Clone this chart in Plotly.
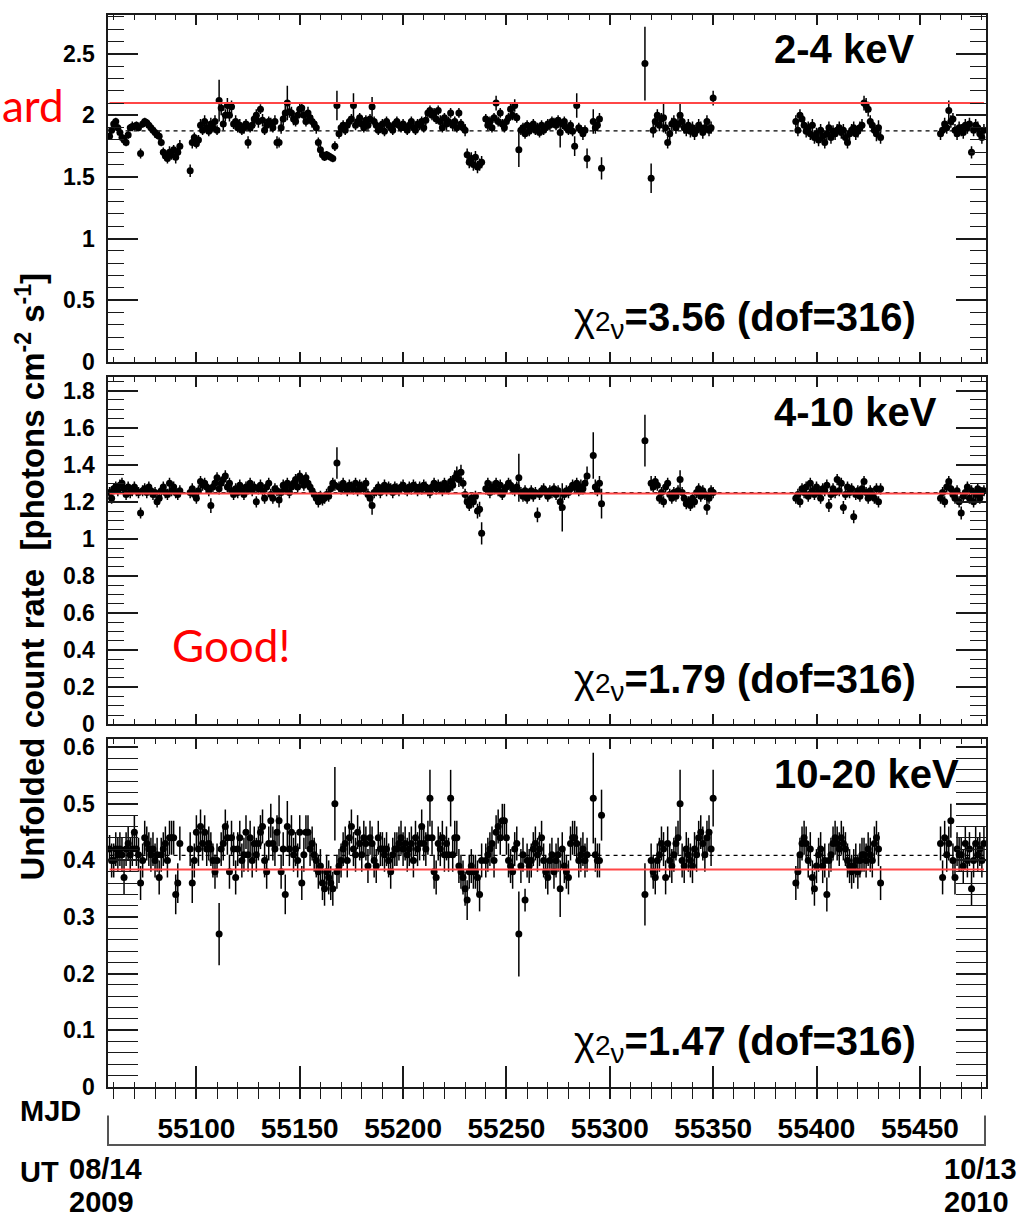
import plotly.graph_objects as go

# ---------------- data (MJD days) ----------------
mjd = [
    55058, 55059, 55060, 55061, 55062, 55063, 55064, 55065, 55066, 55067,
    55068, 55069, 55070, 55071, 55072, 55073, 55074, 55075, 55076, 55077,
    55078, 55079, 55080, 55081, 55082, 55083, 55084, 55085, 55086, 55087,
    55088, 55089, 55090, 55091, 55092,
    55097, 55098, 55099, 55100, 55101, 55102, 55103, 55104, 55105, 55106,
    55107, 55108, 55109, 55110, 55111, 55112, 55113, 55114, 55115, 55116,
    55117, 55118, 55119, 55120, 55121, 55122, 55123, 55124, 55125, 55126,
    55127, 55128, 55129, 55130, 55131, 55132, 55133, 55134, 55135, 55136,
    55137, 55138, 55139, 55140, 55141, 55142, 55143, 55144, 55145, 55146,
    55147, 55148, 55149, 55150, 55151, 55152, 55153, 55154, 55155, 55156,
    55157, 55158, 55159, 55160, 55161, 55162, 55163, 55164, 55165, 55166,
    55167, 55168, 55169, 55170, 55171, 55172, 55173, 55174, 55175, 55176,
    55177, 55178, 55179, 55180, 55181, 55182, 55183, 55184, 55185, 55186,
    55187, 55188, 55189, 55190, 55191, 55192, 55193, 55194, 55195, 55196,
    55197, 55198, 55199, 55200, 55201, 55202, 55203, 55204, 55205, 55206,
    55207, 55208, 55209, 55210, 55211, 55212, 55213, 55214, 55215, 55216,
    55217, 55218, 55219, 55220, 55221, 55222, 55223, 55224, 55225, 55226,
    55227, 55228, 55229, 55230, 55231, 55232, 55233, 55234, 55235, 55236,
    55237, 55238,
    55240, 55241, 55242, 55243, 55244, 55245, 55246, 55247, 55248, 55249,
    55250, 55251, 55252, 55253, 55254, 55255, 55256, 55257, 55258, 55259,
    55260, 55261, 55262, 55263, 55264, 55265, 55266, 55267, 55268, 55269,
    55270, 55271, 55272, 55273, 55274, 55275, 55276, 55277, 55278, 55279,
    55280, 55281, 55282, 55283, 55284, 55285, 55286, 55287, 55288, 55289,
    55292, 55293, 55294, 55295, 55296,
    55317,
    55320, 55321, 55322, 55323, 55324, 55325, 55326, 55327, 55328, 55329,
    55330, 55331, 55332, 55333, 55334, 55335, 55336, 55337, 55338, 55339,
    55340, 55341, 55342, 55343, 55344, 55345, 55346, 55347, 55348, 55349,
    55350,
    55390, 55391, 55392, 55393, 55394, 55395, 55396, 55397, 55398, 55399,
    55400, 55401, 55402, 55403, 55404, 55405, 55406, 55407, 55408, 55409,
    55410, 55411, 55412, 55413, 55414, 55415, 55416, 55417, 55418, 55419,
    55420, 55421, 55422, 55423, 55424, 55425, 55426, 55427, 55428, 55429,
    55430, 55431,
    55460, 55461, 55462, 55463, 55464, 55465, 55466, 55467, 55468, 55469,
    55470, 55471, 55472, 55473, 55474, 55475, 55476, 55477, 55478, 55479,
    55480, 55481,
]

rate_2_4 = [
    1.83, 1.88, 1.93, 1.95, 1.90, 1.86, 1.82, 1.80, 1.78, 1.84,
    1.90, 1.91, 1.91, 1.92, 1.90, 1.69, 1.93, 1.95, 1.94, 1.92,
    1.90, 1.88, 1.86, 1.84, 1.83, 1.78, 1.70, 1.67, 1.65, 1.70,
    1.68, 1.72, 1.66, 1.70, 1.75,
    1.55, 1.78, 1.82, 1.77, 1.80, 1.92, 1.88, 1.95, 1.90, 1.87,
    1.93, 1.90, 1.95, 1.88, 2.12, 2.06, 1.93, 2.00, 2.08, 2.00,
    2.07, 1.93, 1.95, 1.90, 1.92, 1.88, 1.90, 1.93, 1.78, 1.90,
    1.92, 1.97, 2.00, 1.95, 2.05, 1.96, 1.88, 1.92, 1.95, 1.93,
    1.90, 1.95, 1.78, 1.78, 1.90, 1.97, 2.02, 2.10, 2.03, 2.02,
    1.97, 1.95, 2.00, 2.05, 2.06, 2.00, 1.95, 2.02, 1.98, 1.95,
    1.93, 1.90, 1.78, 1.72, 1.68, 1.66, 1.68, 1.67, 1.66, 1.65,
    1.75, 2.08, 1.85, 1.90, 1.92, 1.88, 1.92, 1.95, 1.97, 2.08,
    1.92, 1.95, 1.98, 1.93, 1.90, 1.96, 1.92, 1.97, 2.07, 1.95,
    1.92, 1.88, 1.90, 1.93, 1.87, 1.95, 1.92, 1.90, 1.88, 1.93,
    1.95, 1.92, 1.90, 1.93, 1.90, 1.88, 1.92, 1.95, 1.90, 1.88,
    1.93, 1.92, 1.95, 1.90, 1.96, 2.02, 2.04, 2.00, 2.02, 1.97,
    2.04, 1.95, 1.90, 1.98, 1.93, 1.95, 2.02, 1.92, 1.95, 1.90,
    2.02, 1.93, 1.90, 1.88, 1.68, 1.62, 1.65, 1.60, 1.66, 1.58,
    1.60, 1.62,
    1.97, 1.92, 1.95, 1.90, 1.98, 2.10, 1.95, 2.02, 1.93, 1.90,
    1.95, 1.98, 2.05, 2.00, 2.08, 1.98, 1.72, 1.88, 1.90, 1.85,
    1.92, 1.87, 1.90, 1.93, 1.88, 1.90, 1.86, 1.92, 1.88, 1.90,
    1.93, 1.92, 1.95, 1.94, 1.92, 1.96, 1.86, 1.93, 1.95, 1.90,
    1.88, 1.92, 1.87, 1.75, 2.08, 1.90, 1.88, 1.85, 1.88, 1.65,
    1.95, 1.90, 1.92, 1.97, 1.57,
    2.42,
    1.49, 1.88, 1.95, 2.00, 1.92, 1.97, 1.98, 1.90, 1.78, 1.85,
    1.93, 1.95, 1.90, 1.93, 2.00, 1.95, 1.90, 1.88, 1.92, 1.87,
    1.90, 1.85, 1.88, 1.92, 1.90, 1.86, 1.90, 1.95, 1.88, 1.90,
    2.14,
    1.95, 1.88, 2.00, 1.97, 1.92, 1.87, 1.90, 1.85, 1.92, 1.82,
    1.85, 1.80, 1.88, 1.83, 1.78, 1.85, 1.90, 1.82, 1.87, 1.85,
    1.88, 1.90, 1.86, 1.88, 1.82, 1.78, 1.85, 1.88, 1.90, 1.85,
    1.87, 1.90, 1.92, 2.10, 2.08, 2.05, 1.95, 1.92, 1.88, 1.85,
    1.90, 1.82,
    1.85, 1.88, 1.93, 1.90, 2.04, 1.95, 1.97, 1.88, 1.85, 1.90,
    1.88, 1.86, 1.92, 1.90, 1.93, 1.70, 1.88, 1.92, 1.90, 1.85,
    1.82, 1.88,
]

err_2_4 = [
    .03, .03, .04, .03, .03, .04, .03, .04, .03, .03,
    .03, .04, .03, .03, .03, .04, .03, .03, .03, .03,
    .03, .03, .04, .03, .04, .03, .04, .04, .04, .05,
    .04, .04, .05, .04, .05,
    .05, .05, .04, .04, .04, .05, .04, .05, .04, .04,
    .05, .04, .05, .04, .17, .06, .05, .05, .06, .05,
    .05, .04, .05, .04, .05, .04, .05, .04, .05, .04,
    .05, .04, .05, .05, .04, .05, .04, .05, .04, .05,
    .04, .05, .05, .04, .05, .05, .06, .14, .05, .05,
    .05, .04, .05, .05, .04, .05, .04, .05, .04, .05,
    .04, .05, .04, .04, .03, .03, .03, .03, .03, .03,
    .04, .12, .04, .04, .04, .04, .04, .04, .04, .10,
    .04, .04, .04, .04, .04, .04, .04, .04, .08, .04,
    .04, .04, .04, .04, .04, .04, .04, .04, .04, .04,
    .04, .04, .04, .04, .04, .04, .04, .04, .04, .04,
    .04, .04, .04, .04, .04, .04, .04, .04, .04, .04,
    .04, .05, .04, .04, .05, .04, .04, .05, .04, .04,
    .04, .04, .04, .05, .05, .05, .05, .05, .05, .05,
    .05, .05,
    .04, .04, .04, .04, .04, .06, .04, .04, .04, .04,
    .04, .04, .05, .04, .05, .04, .14, .04, .04, .04,
    .04, .04, .04, .04, .04, .04, .04, .04, .04, .04,
    .04, .04, .04, .04, .04, .04, .12, .04, .04, .04,
    .04, .04, .04, .08, .10, .04, .04, .05, .04, .08,
    .10, .05, .05, .05, .09,
    .30,
    .12, .06, .05, .05, .05, .05, .12, .05, .05, .05,
    .05, .05, .05, .05, .10, .05, .05, .05, .05, .05,
    .05, .05, .05, .05, .05, .05, .05, .05, .05, .05,
    .06,
    .05, .05, .05, .05, .05, .05, .05, .05, .05, .05,
    .05, .05, .05, .05, .05, .05, .05, .05, .05, .05,
    .05, .05, .05, .05, .05, .05, .05, .05, .05, .05,
    .05, .05, .05, .06, .06, .06, .05, .05, .05, .06,
    .06, .05,
    .05, .05, .05, .05, .08, .05, .05, .05, .05, .05,
    .05, .05, .05, .05, .05, .05, .05, .05, .05, .05,
    .05, .05,
]

rate_4_10 = [
    1.25, 1.22, 1.27, 1.28, 1.26, 1.29, 1.30, 1.27, 1.24, 1.28,
    1.25, 1.26, 1.28, 1.26, 1.25, 1.14, 1.26, 1.27, 1.25, 1.28,
    1.26, 1.24, 1.25, 1.20, 1.22, 1.26, 1.28, 1.25, 1.24, 1.30,
    1.26, 1.28, 1.25, 1.24, 1.26,
    1.25, 1.27, 1.24, 1.22, 1.26, 1.31, 1.29, 1.30, 1.28, 1.26,
    1.18, 1.28, 1.30, 1.33, 1.27, 1.30, 1.32, 1.34, 1.28, 1.30,
    1.26, 1.24, 1.27, 1.25, 1.29, 1.26, 1.24, 1.28, 1.27, 1.30,
    1.26, 1.28, 1.20, 1.27, 1.29, 1.26, 1.22, 1.28, 1.30, 1.24,
    1.22, 1.27, 1.26, 1.21, 1.25, 1.29, 1.27, 1.30, 1.25, 1.28,
    1.30, 1.32, 1.28, 1.34, 1.31, 1.29, 1.33, 1.30, 1.28, 1.26,
    1.24, 1.22, 1.20, 1.23, 1.21, 1.22, 1.24, 1.23, 1.27, 1.30,
    1.29, 1.41, 1.28, 1.27, 1.30, 1.28, 1.26, 1.29, 1.28, 1.27,
    1.30, 1.26, 1.29, 1.28, 1.27, 1.30, 1.24, 1.22, 1.18, 1.25,
    1.26, 1.28, 1.25, 1.27, 1.29, 1.26, 1.28, 1.27, 1.25, 1.28,
    1.27, 1.26, 1.28, 1.29, 1.27, 1.26, 1.28, 1.27, 1.29, 1.28,
    1.26, 1.28, 1.27, 1.29, 1.28, 1.26, 1.25, 1.28, 1.30, 1.27,
    1.29, 1.28, 1.26, 1.30, 1.28, 1.27, 1.31, 1.29, 1.33, 1.35,
    1.32, 1.36, 1.30, 1.24, 1.20, 1.18, 1.22, 1.20, 1.23, 1.15,
    1.16, 1.03,
    1.27, 1.30, 1.25, 1.28, 1.27, 1.30, 1.26, 1.29, 1.24, 1.26,
    1.28, 1.30, 1.29, 1.27, 1.26, 1.28, 1.33, 1.25, 1.23, 1.26,
    1.22, 1.24, 1.26, 1.23, 1.25, 1.13, 1.24, 1.26, 1.27, 1.25,
    1.23, 1.26, 1.25, 1.27, 1.24, 1.26, 1.20, 1.17, 1.24, 1.26,
    1.25, 1.27, 1.29, 1.28, 1.30, 1.26, 1.28, 1.27, 1.30, 1.34,
    1.45, 1.28, 1.26, 1.30, 1.19,
    1.53,
    1.30, 1.28, 1.31, 1.29, 1.22, 1.25, 1.20, 1.28, 1.30, 1.24,
    1.22, 1.25, 1.23, 1.26, 1.32, 1.25, 1.22, 1.19, 1.20, 1.18,
    1.22, 1.20, 1.25, 1.27, 1.23, 1.26, 1.24, 1.17, 1.22, 1.26,
    1.25,
    1.22, 1.24, 1.20, 1.27, 1.25, 1.28, 1.23, 1.30, 1.26, 1.24,
    1.28, 1.25, 1.22, 1.27, 1.26, 1.29, 1.18, 1.24, 1.27, 1.25,
    1.32, 1.26, 1.30, 1.17, 1.24, 1.28, 1.25, 1.27, 1.12, 1.24,
    1.26, 1.23, 1.27, 1.31, 1.25, 1.22, 1.26, 1.24, 1.22, 1.27,
    1.20, 1.27,
    1.22, 1.25, 1.20, 1.28, 1.31, 1.27, 1.24, 1.22, 1.26, 1.20,
    1.14, 1.23, 1.25, 1.28, 1.22, 1.26, 1.20, 1.24, 1.27, 1.22,
    1.25, 1.26,
]

err_4_10 = [
    .03, .03, .03, .03, .03, .03, .03, .03, .03, .03,
    .03, .03, .03, .03, .03, .03, .03, .03, .03, .03,
    .03, .03, .03, .03, .03, .03, .03, .03, .03, .03,
    .03, .03, .03, .03, .03,
    .03, .03, .03, .03, .03, .03, .03, .03, .03, .03,
    .04, .03, .03, .03, .03, .03, .03, .03, .03, .03,
    .03, .03, .03, .03, .03, .03, .03, .03, .03, .03,
    .03, .03, .03, .03, .03, .03, .03, .03, .03, .03,
    .03, .03, .03, .04, .03, .03, .03, .03, .03, .03,
    .03, .03, .03, .03, .03, .03, .03, .03, .03, .03,
    .03, .03, .03, .03, .03, .03, .03, .03, .03, .03,
    .03, .085, .03, .03, .03, .03, .03, .03, .03, .03,
    .03, .03, .03, .03, .03, .03, .03, .03, .05, .03,
    .03, .03, .03, .03, .03, .03, .03, .03, .03, .03,
    .03, .03, .03, .03, .03, .03, .03, .03, .03, .03,
    .03, .03, .03, .03, .03, .03, .03, .03, .03, .03,
    .03, .03, .03, .03, .03, .03, .03, .03, .04, .04,
    .04, .04, .03, .03, .03, .03, .03, .03, .03, .04,
    .04, .06,
    .03, .03, .03, .03, .03, .03, .03, .03, .03, .03,
    .03, .03, .03, .03, .03, .03, .13, .03, .03, .03,
    .03, .03, .03, .03, .03, .04, .03, .03, .03, .03,
    .03, .03, .03, .03, .03, .03, .05, .13, .03, .03,
    .03, .03, .03, .03, .03, .03, .04, .03, .04, .05,
    .125, .04, .03, .04, .08,
    .14,
    .04, .03, .03, .03, .03, .03, .03, .03, .03, .03,
    .03, .03, .03, .03, .05, .03, .03, .03, .03, .03,
    .03, .03, .03, .03, .03, .03, .03, .04, .03, .03,
    .03,
    .03, .03, .03, .03, .03, .03, .03, .03, .03, .03,
    .03, .03, .03, .03, .03, .03, .035, .03, .03, .03,
    .03, .03, .03, .035, .03, .03, .03, .03, .035, .03,
    .03, .03, .03, .03, .03, .03, .03, .03, .03, .03,
    .03, .03,
    .03, .03, .03, .03, .03, .03, .03, .03, .03, .03,
    .035, .03, .03, .03, .03, .03, .03, .03, .03, .03,
    .03, .03,
]

rate_10_20 = [
    0.42, 0.40, 0.40, 0.42, 0.41, 0.42, 0.41, 0.37, 0.42, 0.43,
    0.41, 0.42, 0.45, 0.42, 0.41, 0.36, 0.40, 0.44, 0.43, 0.42,
    0.41, 0.42, 0.40, 0.41, 0.37, 0.41, 0.42, 0.43, 0.40, 0.44,
    0.44, 0.44, 0.34, 0.36, 0.43,
    0.42, 0.36, 0.40, 0.45, 0.42, 0.46, 0.43, 0.45, 0.42, 0.43,
    0.42, 0.40, 0.38, 0.40, 0.27, 0.42, 0.43, 0.46, 0.44, 0.38,
    0.44, 0.42, 0.37, 0.42, 0.44, 0.40, 0.41, 0.45, 0.41, 0.44,
    0.40, 0.43, 0.41, 0.43, 0.45, 0.46, 0.40, 0.38, 0.43, 0.47,
    0.43, 0.42, 0.45, 0.47, 0.38, 0.42, 0.34, 0.46, 0.42, 0.45,
    0.41, 0.42, 0.40, 0.45, 0.36, 0.41, 0.45, 0.45, 0.42, 0.43,
    0.41, 0.40, 0.38, 0.39, 0.36, 0.35, 0.38, 0.37, 0.36, 0.35,
    0.50, 0.38, 0.39, 0.40, 0.42, 0.43, 0.40, 0.44, 0.46, 0.42,
    0.41, 0.45, 0.43, 0.41, 0.44, 0.43, 0.39, 0.44, 0.43, 0.40,
    0.39, 0.44, 0.42, 0.42, 0.41, 0.42, 0.40, 0.38, 0.41, 0.42,
    0.42, 0.43, 0.44, 0.42, 0.43, 0.41, 0.42, 0.43, 0.40, 0.44,
    0.42, 0.43, 0.46, 0.43, 0.42, 0.44, 0.51, 0.44, 0.38, 0.37,
    0.43, 0.42, 0.44, 0.41, 0.43, 0.41, 0.51, 0.41, 0.44, 0.44,
    0.39, 0.38, 0.37, 0.35, 0.33, 0.38, 0.39, 0.38, 0.38, 0.37,
    0.34, 0.40,
    0.40, 0.41, 0.42, 0.43, 0.40, 0.45, 0.46, 0.44, 0.47, 0.47,
    0.44, 0.40, 0.39, 0.38, 0.42, 0.43, 0.27, 0.39, 0.41, 0.33,
    0.40, 0.39, 0.40, 0.42, 0.43, 0.41, 0.42, 0.44, 0.40, 0.38,
    0.37, 0.40, 0.41, 0.38, 0.40, 0.41, 0.35, 0.42, 0.39, 0.38,
    0.37, 0.43, 0.44, 0.44, 0.43, 0.40, 0.41, 0.42, 0.40, 0.41,
    0.51, 0.41, 0.40, 0.40, 0.48,
    0.34,
    0.40, 0.38, 0.37, 0.40, 0.41, 0.43, 0.42, 0.37, 0.43, 0.40,
    0.39, 0.41, 0.43, 0.44, 0.50, 0.40, 0.39, 0.42, 0.41, 0.40,
    0.39, 0.42, 0.41, 0.44, 0.45, 0.43, 0.41, 0.44, 0.45, 0.42,
    0.51,
    0.36, 0.38, 0.41, 0.43, 0.44, 0.43, 0.40, 0.42, 0.37, 0.35,
    0.39, 0.41, 0.42, 0.39, 0.40, 0.34, 0.40, 0.41, 0.43, 0.44,
    0.43, 0.42, 0.44, 0.43, 0.42, 0.40, 0.39, 0.38, 0.39, 0.40,
    0.38, 0.40, 0.41, 0.41, 0.40, 0.42, 0.41, 0.40, 0.43, 0.44,
    0.42, 0.36,
    0.43, 0.37, 0.44, 0.41, 0.43, 0.47, 0.40, 0.37, 0.42, 0.41,
    0.41, 0.39, 0.43, 0.40, 0.42, 0.35, 0.40, 0.43, 0.41, 0.42,
    0.40, 0.43,
]

err_10_20 = [
    .025, .03, .03, .03, .03, .03, .03, .03, .03, .03,
    .03, .03, .03, .03, .03, .03, .03, .03, .03, .03,
    .03, .03, .03, .03, .03, .03, .03, .03, .03, .03,
    .03, .03, .035, .035, .03,
    .03, .035, .03, .03, .03, .03, .03, .03, .03, .03,
    .03, .03, .03, .03, .055, .03, .03, .03, .03, .03,
    .03, .03, .03, .03, .03, .03, .03, .03, .03, .03,
    .03, .03, .03, .03, .03, .03, .03, .03, .03, .03,
    .03, .03, .03, .045, .03, .03, .035, .045, .03, .03,
    .03, .03, .03, .03, .03, .03, .03, .03, .03, .03,
    .03, .03, .03, .03, .03, .03, .03, .03, .03, .03,
    .065, .03, .03, .03, .03, .03, .03, .03, .03, .03,
    .03, .03, .03, .03, .03, .03, .03, .03, .03, .03,
    .03, .03, .03, .03, .03, .03, .03, .03, .03, .03,
    .03, .03, .03, .03, .03, .03, .03, .03, .03, .03,
    .03, .03, .03, .03, .03, .03, .05, .03, .03, .03,
    .03, .03, .03, .03, .03, .03, .05, .03, .03, .03,
    .03, .03, .03, .03, .035, .03, .03, .03, .03, .03,
    .03, .03,
    .03, .03, .03, .03, .03, .03, .03, .03, .03, .03,
    .03, .03, .03, .03, .03, .03, .075, .03, .03, .02,
    .03, .03, .03, .03, .03, .03, .03, .03, .03, .03,
    .03, .03, .03, .03, .03, .03, .05, .03, .03, .03,
    .03, .03, .03, .03, .03, .03, .03, .03, .03, .03,
    .08, .03, .03, .03, .045,
    .055,
    .03, .03, .03, .03, .03, .03, .03, .03, .03, .03,
    .03, .03, .03, .03, .06, .03, .03, .03, .03, .03,
    .03, .03, .03, .03, .03, .03, .03, .03, .03, .03,
    .05,
    .03, .03, .03, .03, .03, .03, .03, .03, .03, .03,
    .03, .03, .03, .03, .03, .03, .03, .03, .03, .03,
    .03, .03, .03, .03, .03, .03, .03, .03, .03, .03,
    .03, .03, .03, .03, .03, .03, .03, .03, .03, .03,
    .03, .03,
    .03, .03, .03, .03, .03, .03, .03, .03, .03, .03,
    .03, .03, .03, .03, .03, .03, .03, .03, .03, .03,
    .03, .03,
]

band_labels = ["2-4 keV", "4-10 keV", "10-20 keV"]
chi2_values = ["3.56", "1.79", "1.47"]
dof = 316
fit_levels = [2.10, 1.245, 0.384]      # red solid lines
mean_levels = [1.874, 1.25, 0.409]     # black dashed lines
y_ranges = [[0, 2.816], [0, 1.871], [0, 0.6144]]
y_dticks = [0.5, 0.2, 0.1]
y_minor = [0.1, 0.05, 0.02]
mjd_range = [55057, 55482]
mjd_tick0, mjd_dtick, mjd_minor = 55100, 50, 10
ut_start, ut_end = ("08/14", "2009"), ("10/13", "2010")

rates = [rate_2_4, rate_4_10, rate_10_20]
errs = [err_2_4, err_4_10, err_10_20]
for r, e in zip(rates, errs):
    assert len(r) == len(mjd) and len(e) == len(mjd), (len(mjd), len(r), len(e))

# ---------------- layout helpers ----------------
W, H = 1021, 1226
FONT = "Liberation Sans, Arial, Helvetica, sans-serif"
AX = "#1a1a1a"
X0, X1 = 107.5, 986
panel_px = [(10, 362), (378, 730), (745, 1098)]


def fx(p):
    return p / W


def fy(p):
    return 1 - p / H


fig = go.Figure()
annotations = []

for i in range(3):
    n = "" if i == 0 else str(i + 1)
    xa, ya = "x" + n, "y" + n
    # dashed mean line
    fig.add_trace(go.Scatter(
        x=[mjd[0], mjd[-1]], y=[mean_levels[i]] * 2, mode="lines",
        line=dict(color="black", width=1.2, dash="4px,4px"),
        xaxis=xa, yaxis=ya, hoverinfo="skip"))
    # data points
    fig.add_trace(go.Scatter(
        x=mjd, y=rates[i], mode="markers",
        marker=dict(color="black", size=7, line=dict(width=0)),
        error_y=dict(type="data", array=errs[i], color="black",
                     thickness=1.5, width=0),
        xaxis=xa, yaxis=ya))
    # red fit line
    fig.add_trace(go.Scatter(
        x=[mjd[0], mjd[-1]], y=[fit_levels[i]] * 2, mode="lines",
        line=dict(color="rgb(255,70,70)", width=2),
        xaxis=xa, yaxis=ya, hoverinfo="skip"))

    top, bot = panel_px[i]
    fig.update_layout(**{
        "xaxis" + n: dict(
            domain=[fx(X0), fx(X1)], range=mjd_range, anchor=ya,
            showline=True, linecolor=AX, linewidth=2, mirror="allticks",
            ticks="inside", ticklen=10, tickwidth=1.5, tickcolor=AX,
            tick0=mjd_tick0, dtick=mjd_dtick,
            minor=dict(ticks="inside", ticklen=5, dtick=mjd_minor,
                       tickcolor=AX, tickwidth=1.2),
            showticklabels=False, showgrid=False, zeroline=False),
        "yaxis" + n: dict(
            domain=[fy(bot), fy(top)], range=y_ranges[i], anchor=xa,
            showline=True, linecolor=AX, linewidth=2, mirror="allticks",
            ticks="inside", ticklen=30, tickwidth=1.5, tickcolor=AX,
            tick0=0, dtick=y_dticks[i],
            minor=dict(ticks="inside", ticklen=16, dtick=y_minor[i],
                       tickcolor=AX, tickwidth=1.2),
            tickfont=dict(family=FONT, size=23, color="black", weight="bold"),
            ticklabelstandoff=6,
            showgrid=False, zeroline=False),
    })

    label_y = [45, 413, 780][i]
    chi_y = [320, 687, 1054][i]
    annotations.append(dict(
        x=fx(772), y=fy(label_y), xref="paper", yref="paper",
        xanchor="left", yanchor="middle", showarrow=False,
        text="<b>%s</b>" % band_labels[i],
        font=dict(family=FONT, size=40, color="black")))
    annotations.append(dict(
        x=fx(918), y=fy(chi_y), xref="paper", yref="paper",
        xanchor="right", yanchor="middle", showarrow=False,
        text=("χ<span style='font-size:28px'>2</span><sub>ν</sub>"
              "<b>=%s (dof=%d)</b>" % (chi2_values[i], dof)),
        font=dict(family=FONT, size=40, color="black")))

# MJD label axis below bottom panel
fig.add_trace(go.Scatter(x=[mjd[0]], y=[0], mode="markers", opacity=0,
                         xaxis="x4", yaxis="y3", hoverinfo="skip"))
fig.add_trace(go.Scatter(x=[mjd[0]], y=[0], mode="markers", opacity=0,
                         xaxis="x5", yaxis="y3", hoverinfo="skip"))
fig.update_layout(
    xaxis4=dict(
        overlaying="x3", anchor="free", position=fy(1098),
        domain=[fx(X0), fx(X1)], range=mjd_range,
        showline=False, ticks="outside", ticklen=11, tickwidth=1.5, tickcolor=AX,
        tick0=mjd_tick0, dtick=mjd_dtick, tickformat="d",
        minor=dict(ticks="outside", ticklen=11, dtick=mjd_minor,
                   tickcolor=AX, tickwidth=1.2),
        tickfont=dict(family=FONT, size=28, color="black", weight="bold"),
        ticklabelstandoff=6,
        showgrid=False, zeroline=False),
    xaxis5=dict(
        overlaying="x3", anchor="free", position=fy(1098),
        domain=[fx(X0), fx(X1)], range=mjd_range,
        showline=False, ticks="inside", ticklen=21, tickwidth=1.5, tickcolor=AX,
        tick0=mjd_tick0, dtick=mjd_dtick, showticklabels=False,
        showgrid=False, zeroline=False),
)

# UT bracket
fig.add_shape(type="path", xref="paper", yref="paper",
              path="M %f,%f L %f,%f L %f,%f L %f,%f" % (
                  fx(108), fy(1127), fx(108), fy(1157),
                  fx(985), fy(1157), fx(985), fy(1127)),
              line=dict(color="#555", width=2))

bold = dict(family=FONT, size=29, color="black")
annotations += [
    dict(x=fx(18), y=fy(1122), text="<b>MJD</b>", xanchor="left", yanchor="middle", font=bold),
    dict(x=fx(18), y=fy(1184), text="<b>UT</b>", xanchor="left", yanchor="middle", font=bold),
    dict(x=fx(67), y=fy(1181), text="<b>%s</b>" % ut_start[0], xanchor="left", yanchor="middle", font=bold),
    dict(x=fx(67), y=fy(1215), text="<b>%s</b>" % ut_start[1], xanchor="left", yanchor="middle", font=bold),
    dict(x=fx(1019), y=fy(1181), text="<b>%s</b>" % ut_end[0], xanchor="right", yanchor="middle", font=bold),
    dict(x=fx(1011), y=fy(1215), text="<b>%s</b>" % ut_end[1], xanchor="right", yanchor="middle", font=bold),
    dict(x=fx(31), y=fy(580), textangle=-90, xanchor="center", yanchor="middle",
         text="<b>Unfolded count rate\u00a0 [photons cm<sup>-2</sup> s<sup>-1</sup>]</b>",
         font=dict(family=FONT, size=33, color="black")),
    dict(x=fx(0), y=fy(101), text="ard", xanchor="left", yanchor="middle",
         font=dict(family="Lato, Open Sans, sans-serif", size=44, color="red")),
    dict(x=fx(170), y=fy(650), text="Good!", xanchor="left", yanchor="middle",
         font=dict(family="Lato, Open Sans, sans-serif", size=44, color="red")),
]
for a in annotations:
    a.setdefault("xref", "paper")
    a.setdefault("yref", "paper")
    a.setdefault("showarrow", False)

fig.update_layout(
    width=W, height=H, margin=dict(l=0, r=0, t=0, b=0),
    paper_bgcolor="white", plot_bgcolor="white", showlegend=False,
    annotations=annotations,
)

fig.write_html("out.html")
